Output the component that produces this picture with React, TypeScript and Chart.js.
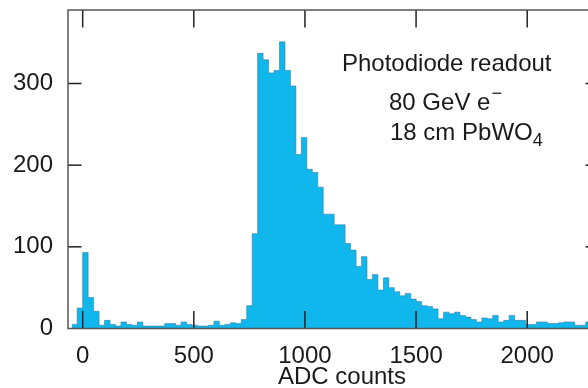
import React, { useEffect, useRef } from "react";
import { Chart, registerables } from "chart.js";

Chart.register(...registerables);

// Histogram binning (ADC counts)
const binWidth = 24.6;
const firstBinEdge = -49.2;
// Entries per bin
const counts = [
  5, 25, 93, 38, 21, 4, 10, 5, 3, 8, 5, 4, 8, 3, 3, 3, 3, 6, 6, 4, 8, 5, 4, 3, 3, 4, 9, 4, 5, 7,
  6, 11, 28, 116, 337, 329, 313, 316, 351, 316, 297, 213, 234, 195, 191, 173, 140, 140, 127, 127,
  104, 96, 76, 88, 60, 66, 47, 62, 50, 45, 40, 43, 36, 33, 28, 27, 24, 12, 20, 18, 20, 16, 14, 11,
  8, 13, 12, 16, 8, 10, 16, 10, 10, 5, 5, 8, 8, 6, 6, 7, 8, 8, 4, 4, 8, 8, 8,
];
const xTickValues = [0, 500, 1000, 1500, 2000];
const yTickValues = [0, 100, 200, 300];
const xMin = -66;
const xMax = 2323;
const yMax = 390;
const xTitle = "ADC counts";
const noteLine1 = "Photodiode readout";
const noteLine2 = "80 GeV e";
const noteLine2Sup = "\u2212";
const noteLine3 = "18 cm PbWO";
const noteLine3Sub = "4";

const FONT = '"Liberation Sans", Arial, Helvetica, sans-serif';

const decorPlugin = {
  id: "decor",
  afterDatasetsDraw(chart: any) {
    const { ctx, chartArea: a, scales } = chart;
    const x = scales.x;
    const y = scales.y;
    ctx.save();
    const line = (x1: number, y1: number, x2: number, y2: number) => {
      ctx.beginPath();
      ctx.moveTo(x1, y1);
      ctx.lineTo(x2, y2);
      ctx.stroke();
    };
    ctx.strokeStyle = "#222";
    ctx.lineWidth = 1.5;
    xTickValues.forEach((v) => {
      const px = x.getPixelForValue(v);
      line(px, a.bottom, px, a.bottom - 17.5);
      line(px, a.top, px, a.top + 17.5);
    });
    yTickValues.forEach((v) => {
      if (v === 0) return;
      const py = y.getPixelForValue(v);
      line(a.left, py, a.left + 13.5, py);
      line(a.right, py, a.right - 13.5, py);
    });
    ctx.strokeStyle = "#555";
    ctx.lineWidth = 1.5;
    ctx.strokeRect(a.left, a.top, a.right - a.left, a.bottom - a.top);

    ctx.fillStyle = "#1a1a1a";
    ctx.textBaseline = "alphabetic";
    ctx.textAlign = "left";
    ctx.font = `24px ${FONT}`;
    ctx.fillText(noteLine1, 342, 71);
    ctx.fillText(noteLine2, 389, 110);
    const w2 = ctx.measureText(noteLine2).width;
    ctx.fillText(noteLine3, 390, 139.5);
    const w3 = ctx.measureText(noteLine3).width;
    ctx.font = `18px ${FONT}`;
    ctx.fillText(noteLine2Sup, 389 + w2 + 1, 99);
    ctx.fillText(noteLine3Sub, 390 + w3, 146);

    ctx.font = `24px ${FONT}`;
    ctx.textAlign = "center";
    ctx.fillText(xTitle, 342, 384);
    ctx.restore();
  },
};

export default function App() {
  const ref = useRef<HTMLCanvasElement | null>(null);
  useEffect(() => {
    document.body.style.margin = "0";
    const points = [] as { x: number; y: number }[];
    for (let i = 0; i <= counts.length; i++) {
      points.push({ x: firstBinEdge + i * binWidth, y: counts[Math.min(i, counts.length - 1)] });
    }
    const chart = new Chart(ref.current as HTMLCanvasElement, {
      type: "line",
      data: {
        datasets: [
          {
            data: points,
            stepped: "before",
            fill: "origin",
            backgroundColor: "#0fb7ec",
            borderColor: "rgba(50,120,160,0.55)",
            borderWidth: 1,
            pointRadius: 0,
          },
        ],
      },
      options: {
        animation: false,
        responsive: false,
        layout: { padding: { left: 0, top: 10, right: 5, bottom: 0 } },
        plugins: { legend: { display: false }, tooltip: { enabled: false } },
        scales: {
          x: {
            type: "linear",
            min: xMin,
            max: xMax,
            grid: { display: false },
            border: { display: false },
            afterBuildTicks: (s: any) => {
              s.ticks = xTickValues.map((v) => ({ value: v }));
            },
            afterFit: (s: any) => {
              s.height = 59.5;
              s.paddingLeft = 0;
              s.paddingRight = 0;
            },
            ticks: {
              padding: 5,
              maxRotation: 0,
              autoSkip: false,
              color: "#1a1a1a",
              font: { family: FONT, size: 24 },
              callback: (v: any) => String(v),
            },
          },
          y: {
            min: 0,
            max: yMax,
            grid: { display: false },
            border: { display: false },
            afterBuildTicks: (s: any) => {
              s.ticks = yTickValues.map((v) => ({ value: v }));
            },
            afterFit: (s: any) => {
              s.width = 68;
              s.paddingTop = 0;
              s.paddingBottom = 0;
            },
            ticks: {
              padding: 7,
              color: "#1a1a1a",
              font: { family: FONT, size: 24 },
              callback: (v: any) => String(v),
            },
          },
        },
      },
      plugins: [decorPlugin],
    });
    return () => chart.destroy();
  }, []);
  return (
    <div
      style={{
        position: "absolute",
        left: 0,
        top: 0,
        width: 588,
        height: 388,
        overflow: "hidden",
        background: "#fff",
      }}
    >
      <canvas ref={ref} width={604} height={388} style={{ display: "block" }} />
    </div>
  );
}
